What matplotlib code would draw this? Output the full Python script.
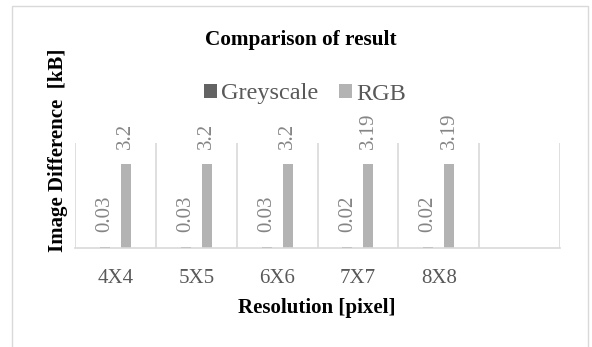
import numpy as np
import matplotlib.pyplot as plt
from matplotlib.patches import Rectangle

plt.rcParams['font.family'] = ['Liberation Serif', 'DejaVu Serif']

# Data
categories = ['4X4', '5X5', '6X6', '7X7', '8X8', '']
greyscale = [0.03, 0.03, 0.03, 0.02, 0.02, np.nan]
rgb = [3.2, 3.2, 3.2, 3.19, 3.19, np.nan]

grey_color = '#636363'
rgb_color = '#b3b3b3'
text_gray = '#595959'
label_gray = '#858585'
grid_color = '#d9d9d9'

fig = plt.figure(figsize=(5.92, 3.47), dpi=100)
W, H = 592, 347

# outer chart border
fig.patches.append(Rectangle((12 / W, -0.02), 576 / W, 1 - 6 / H + 0.02,
                             transform=fig.transFigure, fill=False,
                             edgecolor=grid_color, linewidth=1))

ax = fig.add_axes([75 / W, (H - 248) / H, (560 - 75) / W, (248 - 143) / H])

x = np.arange(len(categories))
bw = 0.125
off = 0.13
ax.bar(x - off, greyscale, bw, color=grey_color, label='Greyscale')
ax.bar(x + off, rgb, bw, color=rgb_color, label='RGB')

for xi, v in zip(x, greyscale):
    if not np.isnan(v):
        ax.annotate(f'{v:g}', (xi - off, v), xytext=(0, 11), textcoords='offset points',
                    ha='center', va='bottom', rotation=90, fontsize=15, color=label_gray)
for xi, v in zip(x, rgb):
    if not np.isnan(v):
        ax.annotate(f'{v:g}', (xi + off, v), xytext=(0, 11), textcoords='offset points',
                    ha='center', va='bottom', rotation=90, fontsize=15, color=label_gray)

ax.set_xlim(-0.5, len(categories) - 0.5)
ax.set_ylim(0, 4)
ax.set_xticks(x[:-1])
ax.set_xticklabels(categories[:-1], fontsize=15, color=text_gray)
ax.tick_params(axis='x', length=0, pad=15)
ax.set_yticks([])
ax.set_xticks(np.arange(len(categories) + 1) - 0.5, minor=True)
ax.tick_params(axis='x', which='minor', length=0)
ax.grid(True, axis='x', which='minor', color=grid_color, linewidth=1.2)
for s in ['top', 'right', 'left']:
    ax.spines[s].set_visible(False)
ax.spines['bottom'].set_color(grid_color)
ax.spines['bottom'].set_linewidth(1.2)
ax.set_axisbelow(True)

fig.text(301 / W, 1 - 40 / H, 'Comparison of result', ha='center', va='center',
         fontsize=15.3, fontweight='bold')
fig.text(58 / W, 1 - 150 / H, 'Image Difference  [kB]', ha='center', va='center',
         rotation=90, fontsize=15, fontweight='bold')
fig.text(317 / W, 1 - 308 / H, 'Resolution [pixel]', ha='center', va='center',
         fontsize=15, fontweight='bold')

leg = fig.legend(loc='center', bbox_to_anchor=(305 / W, 1 - 94 / H), ncol=2,
                 frameon=False, fontsize=17.5, handlelength=0.52, handleheight=0.52,
                 handletextpad=0.16, columnspacing=0.87, labelcolor=text_gray,
                 borderpad=0, borderaxespad=0)

fig.savefig('out.png', dpi=100)
